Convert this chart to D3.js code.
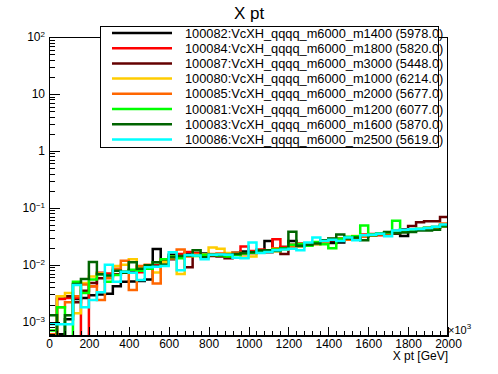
<!DOCTYPE html>
<html><head><meta charset="utf-8">
<script src="https://cdn.jsdelivr.net/npm/d3@7"></script>
<style>
html,body{margin:0;padding:0;background:#fff;}
svg{display:block;font-family:"Liberation Sans",Arial,sans-serif;}
</style></head>
<body><svg id="c" width="498" height="374"></svg>
<script>
// ---- data ----
const binWidth = 40;           // GeV (x10^3 units on the axis)
const xMax = 2000;
const seriesNames = [
  "100082:VcXH_qqqq_m6000_m1400 (5978.0)",
  "100084:VcXH_qqqq_m6000_m1800 (5820.0)",
  "100087:VcXH_qqqq_m6000_m3000 (5448.0)",
  "100080:VcXH_qqqq_m6000_m1000 (6214.0)",
  "100085:VcXH_qqqq_m6000_m2000 (5677.0)",
  "100081:VcXH_qqqq_m6000_m1200 (6077.0)",
  "100083:VcXH_qqqq_m6000_m1600 (5870.0)",
  "100086:VcXH_qqqq_m6000_m2500 (5619.0)"
];
const seriesColors = ["#000000","#ff0000","#640000","#ffcc00","#ff6600","#00ff00","#006400","#00ffff"];
const hBlack = [0.00055,0.0006,0.0011,0.0025,0.0026,0.0029,0.0030,0.0031,0.0042,0.0050,0.0051,0.0052,0.0055,0.0188,0.0110,0.0150,0.0152,0.0156,0.0150,0.0158,0.0152,0.0147,0.0150,0.0162,0.0170,0.0160,0.0172,0.0260,0.0182,0.0205,0.0260,0.0212,0.0225,0.0232,0.0250,0.0240,0.0245,0.0285,0.0300,0.0310,0.0328,0.0340,0.0355,0.0350,0.0320,0.0400,0.0415,0.0430,0.0445,0.0470];
const hRed = [0.0006,0.0025,0.0026,0.0026,0,0.0042,0.0072,0.0070,0.0068,0.0075,0.0080,0.0074,0.0090,0.0098,0.0115,0.0140,0.0155,0.0168,0.0160,0.0150,0.0148,0.0155,0.0152,0.0158,0.0210,0.0175,0.0185,0.0172,0.0280,0.0205,0.0225,0.0235,0.0220,0.0245,0.0260,0.0265,0.0290,0.0282,0.0310,0.0340,0.0345,0.0330,0.0365,0.0390,0.0385,0.0410,0.0420,0.0445,0.0460,0.0500];
const hBrown = [0.0005,0.0028,0.0028,0.0022,0.0035,0.0048,0.0058,0.0062,0.0068,0.0072,0.0078,0.0082,0.0090,0.0095,0.0115,0.0125,0.0138,0.0090,0.0145,0.0138,0.0142,0.0140,0.0130,0.0150,0.0155,0.0162,0.0170,0.0165,0.0180,0.0155,0.0205,0.0215,0.0228,0.0240,0.0248,0.0265,0.0270,0.0290,0.0305,0.0320,0.0335,0.0350,0.0365,0.0390,0.0420,0.0480,0.0560,0.0580,0.0580,0.0690];
const hYellow = [0.0006,0.0028,0.0032,0.0014,0.0048,0.0062,0.0070,0.0062,0.0095,0.0100,0.0125,0.0090,0.0092,0.0073,0.0110,0.0130,0.0069,0.0145,0.0150,0.0152,0.0200,0.0190,0.0160,0.0155,0.0134,0.0140,0.0165,0.0175,0.0172,0.0185,0.0215,0.0212,0.0230,0.0230,0.0250,0.0275,0.0270,0.0300,0.0320,0.0330,0.0325,0.0345,0.0365,0.0375,0.0385,0.0400,0.0410,0.0435,0.0450,0.0480];
const hOrange = [0.0006,0.0018,0.0022,0.0028,0.0045,0.0042,0.0024,0.0058,0.0085,0.0118,0.0036,0.0095,0.0100,0.0047,0.0125,0.0135,0.0185,0.0140,0.0150,0.0145,0.0155,0.0158,0.0148,0.0162,0.0155,0.0160,0.0172,0.0180,0.0195,0.0190,0.0205,0.0230,0.0225,0.0240,0.0250,0.0285,0.0290,0.0275,0.0300,0.0310,0.0335,0.0340,0.0355,0.0360,0.0380,0.0395,0.0410,0.0420,0.0455,0.0530];
const hGreen = [0.0007,0.0018,0.0004,0.0050,0.0032,0.0055,0.0068,0.0050,0.0066,0.0075,0.0082,0.0078,0.0085,0.0110,0.0125,0.0140,0.0130,0.0145,0.0142,0.0150,0.0148,0.0145,0.0140,0.0148,0.0158,0.0162,0.0168,0.0172,0.0185,0.0195,0.0225,0.0232,0.0215,0.0250,0.0230,0.0195,0.0285,0.0310,0.0315,0.0490,0.0340,0.0355,0.0370,0.0590,0.0400,0.0415,0.0430,0.0445,0.0460,0.0480];
const hDkGreen = [0.0013,0.0004,0.0013,0.0046,0.0056,0.0112,0.0068,0.0065,0.0078,0.0072,0.0110,0.0085,0.0098,0.0110,0.0100,0.0135,0.0142,0.0145,0.0180,0.0135,0.0150,0.0148,0.0150,0.0155,0.0160,0.0165,0.0178,0.0180,0.0175,0.0190,0.0380,0.0215,0.0225,0.0235,0.0270,0.0290,0.0340,0.0290,0.0300,0.0270,0.0330,0.0345,0.0375,0.0360,0.0370,0.0375,0.0400,0.0400,0.0410,0.0490];
const hCyan = [0.0009,0.0009,0.0009,0.0044,0.0018,0.0024,0.0033,0.0100,0.0050,0.0075,0.0072,0.0054,0.0090,0.0092,0.0095,0.0165,0.0080,0.0148,0.0145,0.0125,0.0150,0.0152,0.0150,0.0133,0.0130,0.0245,0.0160,0.0168,0.0180,0.0185,0.0190,0.0180,0.0245,0.0300,0.0260,0.0275,0.0262,0.0300,0.0270,0.0330,0.0335,0.0350,0.0315,0.0400,0.0410,0.0420,0.0425,0.0440,0.0465,0.0510];
const seriesValues = [hBlack,hRed,hBrown,hYellow,hOrange,hGreen,hDkGreen,hCyan];
const xTickLabels = [0,200,400,600,800,1000,1200,1400,1600,1800,2000];
const yTickValues = [1e-3,1e-2,1e-1,1,10,100];
const yMin = 5.6e-4, yMax = 100;

// ---- layout ----
const L = 49, R = 448, T = 37, B = 336;
const svg = d3.select("#c");
const x = d3.scaleLinear().domain([0, xMax]).range([L, R]);
const y = d3.scaleLog().domain([yMin, yMax]).range([B, T]);

svg.append("defs").append("clipPath").attr("id","fr")
  .append("rect").attr("x",L).attr("y",T).attr("width",R-L).attr("height",B-T);

// histograms
const edges = d3.range(0, xMax, binWidth);
const line = d3.line().curve(d3.curveStepAfter)
  .x(d => x(d[0])).y(d => y(d[1] > 0 ? d[1] : 1e-6));
const hg = svg.append("g").attr("clip-path","url(#fr)");
seriesValues.forEach((vals, si) => {
  const pts = edges.map((e,i) => [e, vals[i]]);
  pts.push([xMax, vals[vals.length-1]]);
  hg.append("path").attr("d", line(pts)).attr("fill","none")
    .attr("stroke", seriesColors[si]).attr("stroke-width", 2.5)
    .attr("stroke-linejoin","miter");
});

// frame
svg.append("rect").attr("x",L+0.5).attr("y",T+0.5).attr("width",R-L-1).attr("height",B-T-1)
  .attr("fill","none").attr("stroke","#000").attr("stroke-width",1).attr("shape-rendering","crispEdges");

// x axis
const xMinor = d3.range(0, xMax+1, binWidth);
const gxm = svg.append("g").attr("transform",`translate(0,${B})`)
  .call(d3.axisBottom(x).tickValues(xMinor).tickSizeInner(-5).tickSizeOuter(0).tickFormat(""));
const gx = svg.append("g").attr("transform",`translate(0,${B})`)
  .call(d3.axisBottom(x).tickValues(xTickLabels).tickSizeInner(-9).tickSizeOuter(0).tickPadding(3).tickFormat(d3.format("d")));
[gxm, gx].forEach(g => {
  g.select(".domain").attr("stroke","#000").attr("shape-rendering","crispEdges");
  g.selectAll(".tick line").attr("stroke","#000").attr("shape-rendering","crispEdges");
});
gx.selectAll(".tick text").attr("font-size",12).attr("fill","#000")
  .attr("font-family","Liberation Sans, Arial, sans-serif");

// y axis
const yMinor = [];
[-4,-3,-2,-1,0,1].forEach(p => { for (let m=2;m<=9;m++){ const v=m*Math.pow(10,p); if(v>=yMin && v<=yMax) yMinor.push(v);} });
const gym = svg.append("g").attr("transform",`translate(${L},0)`)
  .call(d3.axisLeft(y).tickValues(yMinor).tickSizeInner(-6).tickSizeOuter(0).tickFormat(""));
const gy = svg.append("g").attr("transform",`translate(${L},0)`)
  .call(d3.axisLeft(y).tickValues(yTickValues).tickSizeInner(-11).tickSizeOuter(0).tickPadding(4).tickFormat(""));
[gym, gy].forEach(g => {
  g.select(".domain").attr("stroke","#000").attr("shape-rendering","crispEdges");
  g.selectAll(".tick line").attr("stroke","#000").attr("shape-rendering","crispEdges");
});
gy.selectAll(".tick text").each(function(d){
  const t = d3.select(this).attr("font-size",12).attr("fill","#000")
    .attr("font-family","Liberation Sans, Arial, sans-serif");
  const p = Math.round(Math.log10(d));
  if (p === 0) t.text("1");
  else if (p === 1) t.text("10");
  else {
    t.append("tspan").text("10");
    t.append("tspan").attr("font-size",8).attr("dy","-0.55em").text(String(p).replace("-","\u2212"));
  }
});

// axis title & exponent
svg.append("text").attr("x",R).attr("y",360).attr("text-anchor","end")
  .attr("font-size",12).text("X pt [GeV]");
const ex = svg.append("text").attr("x",R).attr("y",334).attr("font-size",11);
ex.append("tspan").text("\u00d710");
ex.append("tspan").attr("font-size",8).attr("dy",-5).text("3");

// title
svg.append("text").attr("x",249).attr("y",19).attr("text-anchor","middle")
  .attr("font-size",17).text("X pt");

// legend
const lg = svg.append("g");
lg.append("rect").attr("x",100.5).attr("y",26.5).attr("width",338).attr("height",121)
  .attr("fill","#fff").attr("stroke","#000").attr("stroke-width",1).attr("shape-rendering","crispEdges");
seriesNames.forEach((name, i) => {
  const cy = 33 + i*15.2;
  lg.append("line").attr("x1",112).attr("x2",172).attr("y1",cy).attr("y2",cy)
    .attr("stroke",seriesColors[i]).attr("stroke-width",2.5);
  lg.append("text").attr("x",185).attr("y",cy+4.6).attr("font-size",12.8).text(name);
});
</script></body></html>
